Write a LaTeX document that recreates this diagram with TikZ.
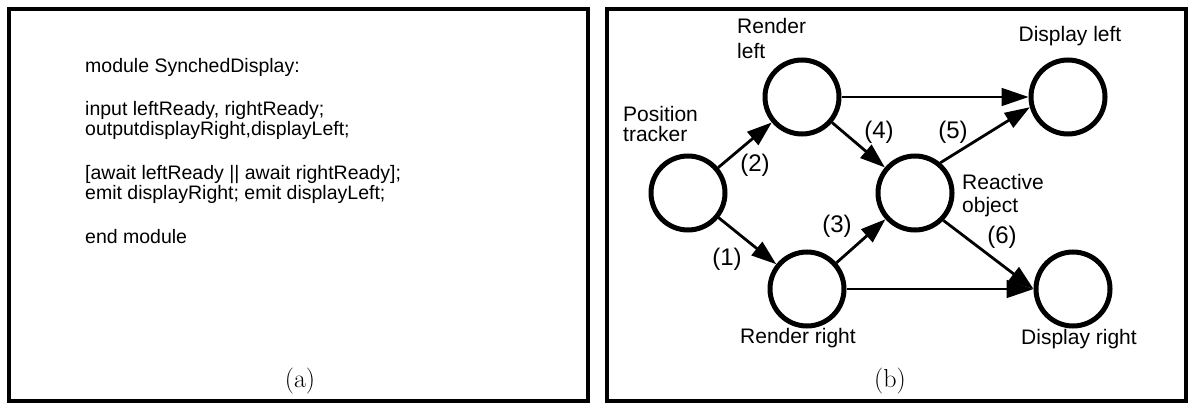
\documentclass[tikz,border=0pt]{standalone}
\usepackage{fontspec}
\newfontfamily\hv{Liberation Sans}
\usetikzlibrary{arrows.meta}
\tikzset{
  panel/.style={draw, line width=4.5pt},
  state/.style={circle, draw, line width=5pt, minimum size=74pt, inner sep=0pt},
  codeline/.style={anchor=west, inner sep=0pt, text height=.75em, text depth=.25em, font=\hv\fontsize{19.5}{21.5}\selectfont},
  lbl/.style={inner sep=0pt, font=\hv\fontsize{21}{25}\selectfont},
  num/.style={inner sep=0pt, font=\hv\fontsize{24}{28}\selectfont},
  captxt/.style={inner sep=0pt, font=\fontsize{26}{30}\selectfont},
  flow/.style={line width=2.8pt, -{Triangle[length=25pt,width=17pt]}},
  direct/.style={line width=1.8pt, -{Triangle[length=27pt,width=18pt]}},
}
\begin{document}
\begin{tikzpicture}[x=1pt,y=-1pt]
\useasboundingbox (0,0) rectangle (1189,404);
% panels
\draw[panel] (9,9) rectangle (588,401);
\draw[panel] (607,9) rectangle (1186,401);
% code
\node[codeline] (c1) at (85,70) {module SynchedDisplay:};
\node[codeline] (c2) at (85,113) {input leftReady, rightReady;};
\node[codeline] (c3) at (85,133) {outputdisplayRight,displayLeft;};
\node[codeline] (c4) at (85,177) {[await leftReady || await rightReady];};
\node[codeline] (c5) at (85,197) {emit displayRight; emit displayLeft;};
\node[codeline] (c6) at (85,241) {end module};
\node[captxt] (capa) at (300,381) {(a)};
% graph
\node[state] (PT) at (688,193) {};
\node[state] (RL) at (802,97) {};
\node[state] (RR) at (807,289) {};
\node[state] (RO) at (915,193) {};
\node[state] (DL) at (1068,97) {};
\node[state] (DR) at (1073,289) {};
\draw[flow] (PT) -- (RL);
\draw[flow] (PT) -- (RR);
\draw[flow] (RL) -- (RO);
\draw[flow] (RR) -- (RO);
\draw[flow] (RO.50) -- (DL.195);
\draw[flow] (RO.-44) -- (DR.west);
\draw[direct] (RL.east) -- (DL.west);
\draw[direct] (RR.east) -- (DR.west);
% labels
\node[lbl, align=left, anchor=west, font=\hv\fontsize{21}{25}\selectfont] (tRL) at (737,38.5) {Render\\left};
\node[lbl, align=left, anchor=west, font=\hv\fontsize{21}{20}\selectfont] (tPT) at (623,124) {Position\\tracker};
\node[lbl, align=left, anchor=west, font=\hv\fontsize{21}{23}\selectfont] (tRO) at (962,195.5) {Reactive\\object};
\node[lbl] (tDL) at (1070,36) {Display left};
\node[lbl] (tRR) at (798,338) {Render right};
\node[lbl] (tDR) at (1079,339) {Display right};
\node[num] (n1) at (727,259) {(1)};
\node[num] (n2) at (755,165) {(2)};
\node[num] (n3) at (837,226) {(3)};
\node[num] (n4) at (879,132) {(4)};
\node[num] (n5) at (953,132) {(5)};
\node[num] (n6) at (1002,237) {(6)};
\node[captxt] (capb) at (890,381) {(b)};
\end{tikzpicture}
\end{document}
